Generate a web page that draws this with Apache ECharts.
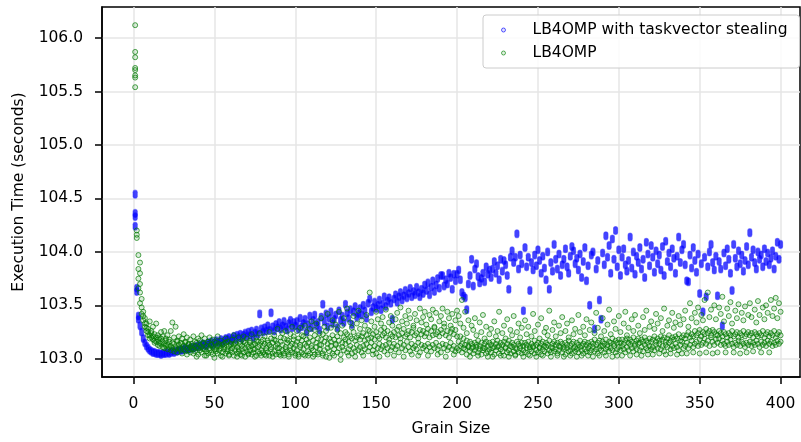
<!DOCTYPE html>
<html>
<head>
<meta charset="utf-8">
<title>Execution time vs grain size</title>
<script src="https://cdn.jsdelivr.net/npm/echarts@6.0.0/dist/echarts.min.js"></script>
<style>
  html, body { margin: 0; padding: 0; background: #fff; }
  #chart { width: 801px; height: 442px; }
</style>
</head>
<body>
<div id="chart"></div>
<script>
// tick labels
const xTicks = [0, 50, 100, 150, 200, 250, 300, 350, 400];
const yTicks = [103.0, 103.5, 104.0, 104.5, 105.0, 105.5, 106.0];

// LB4OMP with taskvector stealing, one value per grain size 1..400
const blueTime = [
  104.36,103.63,103.40,103.31,103.25,103.19,103.15,103.12,103.10,103.08,103.07,103.06,103.06,103.05,103.05,103.05,103.04,103.05,103.05,103.05,
  103.06,103.05,103.06,103.07,103.06,103.07,103.07,103.08,103.08,103.08,103.09,103.10,103.09,103.09,103.10,103.11,103.10,103.11,103.12,103.11,
  103.13,103.12,103.14,103.13,103.12,103.15,103.14,103.16,103.13,103.15,103.17,103.15,103.16,103.18,103.15,103.17,103.19,103.18,103.20,103.17,
  103.19,103.21,103.18,103.22,103.20,103.23,103.19,103.22,103.24,103.21,103.25,103.22,103.26,103.20,103.24,103.27,103.23,103.42,103.28,103.25,
  103.29,103.26,103.31,103.27,103.43,103.30,103.26,103.32,103.29,103.34,103.28,103.31,103.35,103.30,103.27,103.33,103.36,103.29,103.34,103.31,
  103.35,103.28,103.38,103.30,103.33,103.37,103.25,103.32,103.40,103.29,103.36,103.41,103.31,103.34,103.27,103.39,103.51,103.35,103.42,103.30,
  103.38,103.44,103.33,103.37,103.41,103.29,103.45,103.36,103.40,103.34,103.51,103.43,103.38,103.46,103.32,103.44,103.49,103.39,103.42,103.47,
  103.41,103.50,103.45,103.38,103.52,103.56,103.44,103.48,103.53,103.47,103.50,103.55,103.46,103.51,103.58,103.49,103.54,103.57,103.52,103.37,
  103.56,103.60,103.53,103.58,103.62,103.55,103.59,103.64,103.57,103.61,103.66,103.58,103.63,103.60,103.67,103.62,103.58,103.65,103.61,103.69,
  103.64,103.71,103.60,103.67,103.73,103.63,103.69,103.75,103.66,103.78,103.78,103.68,103.74,103.70,103.80,103.76,103.65,103.79,103.73,103.79,
  103.83,103.74,103.62,103.59,103.57,103.46,103.70,103.78,103.93,103.68,103.84,103.89,103.77,103.71,103.75,103.80,103.72,103.86,103.79,103.83,
  103.76,103.84,103.91,103.80,103.87,103.74,103.93,103.82,103.92,103.88,103.78,103.65,103.95,104.01,103.90,103.95,104.17,103.84,103.97,103.89,
  103.45,104.04,103.86,103.95,103.64,103.90,103.83,103.97,103.87,104.02,103.92,103.80,103.96,103.85,103.74,104.00,103.65,103.90,103.82,104.07,
  103.93,103.84,103.98,103.78,103.88,103.93,104.03,103.86,103.80,103.96,104.05,104.01,103.89,103.94,103.83,103.98,103.76,103.91,104.04,103.73,
  103.87,103.50,103.97,104.00,103.28,103.84,103.92,103.55,103.37,103.99,103.88,104.15,103.95,104.06,103.80,104.12,103.93,104.20,103.86,104.02,
  103.78,103.95,104.03,103.88,103.82,103.92,104.14,103.85,104.00,103.79,103.96,103.90,104.04,103.84,103.93,103.76,104.09,103.98,103.87,104.06,
  103.95,103.81,104.01,103.89,103.97,103.83,104.05,103.78,104.10,103.91,103.99,103.86,104.03,103.94,103.80,103.96,104.14,103.90,104.02,104.07,
  103.88,103.73,103.72,103.97,103.85,104.04,103.92,103.81,103.98,103.61,103.89,103.44,103.95,103.58,103.86,104.00,104.07,103.90,103.83,103.96,
  103.59,103.91,103.84,103.31,103.99,103.87,104.03,103.93,103.80,103.64,104.07,103.94,103.86,104.01,103.89,103.97,103.82,103.92,104.05,103.88,
  104.18,103.95,104.02,103.90,103.84,104.00,103.93,103.97,103.86,104.03,103.91,103.99,103.88,103.94,104.01,103.84,103.96,104.09,103.93,104.07
];
const blueExtraGrain = [1, 1, 1, 2, 3];
const blueExtraTime = [104.54, 104.33, 104.24, 103.66, 103.37];

// LB4OMP, three runs per grain size 1..400
const greenRunA = [
  105.65,104.20,103.84,103.70,103.48,103.40,103.33,103.29,103.25,103.22,103.20,103.18,103.15,103.16,103.13,103.12,103.14,103.11,103.10,103.12,
  103.09,103.11,103.08,103.10,103.07,103.09,103.06,103.10,103.08,103.05,103.09,103.07,103.04,103.08,103.06,103.09,103.05,103.07,103.10,103.04,
  103.08,103.06,103.09,103.03,103.07,103.05,103.08,103.06,103.04,103.09,103.07,103.05,103.08,103.03,103.06,103.09,103.05,103.07,103.04,103.08,
  103.06,103.03,103.08,103.05,103.07,103.04,103.09,103.06,103.02,103.07,103.05,103.08,103.04,103.06,103.09,103.03,103.07,103.05,103.08,103.06,
  103.04,103.08,103.06,103.03,103.09,103.05,103.07,103.04,103.10,103.06,103.03,103.08,103.05,103.09,103.07,103.04,103.08,103.06,103.10,103.05,
  103.08,103.04,103.11,103.06,103.09,103.03,103.12,103.07,103.05,103.10,103.08,103.04,103.11,103.06,103.09,103.13,103.05,103.08,103.02,103.10,
  103.07,103.12,103.05,103.09,103.13,103.06,103.10,103.04,103.11,103.08,103.14,103.06,103.09,103.12,103.05,103.10,103.07,103.13,103.08,103.11,
  103.06,103.12,103.09,103.14,103.07,103.11,103.15,103.08,103.12,103.05,103.10,103.14,103.09,103.12,103.07,103.13,103.10,103.15,103.08,103.11,
  103.14,103.09,103.12,103.06,103.15,103.10,103.13,103.08,103.16,103.11,103.07,103.14,103.10,103.12,103.09,103.15,103.06,103.13,103.10,103.12,
  103.08,103.14,103.11,103.07,103.13,103.10,103.15,103.09,103.12,103.06,103.14,103.10,103.13,103.08,103.11,103.15,103.09,103.12,103.07,103.10,
  103.08,103.12,103.06,103.10,103.09,103.04,103.11,103.07,103.10,103.05,103.08,103.11,103.06,103.09,103.04,103.08,103.10,103.05,103.07,103.09,
  103.06,103.10,103.04,103.08,103.11,103.05,103.09,103.07,103.03,103.10,103.06,103.08,103.05,103.11,103.07,103.04,103.09,103.06,103.10,103.05,
  103.08,103.06,103.10,103.04,103.09,103.07,103.11,103.05,103.08,103.06,103.10,103.04,103.09,103.07,103.11,103.05,103.08,103.06,103.10,103.07,
  103.09,103.05,103.08,103.11,103.06,103.09,103.04,103.10,103.07,103.08,103.05,103.10,103.07,103.09,103.06,103.11,103.08,103.05,103.09,103.07,
  103.10,103.06,103.08,103.11,103.07,103.09,103.05,103.10,103.08,103.12,103.06,103.09,103.11,103.07,103.10,103.08,103.12,103.06,103.09,103.11,
  103.08,103.12,103.09,103.06,103.11,103.08,103.13,103.10,103.07,103.12,103.09,103.14,103.08,103.11,103.07,103.13,103.10,103.08,103.12,103.09,
  103.11,103.08,103.13,103.10,103.14,103.09,103.12,103.07,103.13,103.11,103.15,103.09,103.12,103.10,103.14,103.11,103.08,103.13,103.16,103.10,
  103.12,103.15,103.10,103.13,103.17,103.11,103.14,103.16,103.12,103.18,103.13,103.15,103.19,103.14,103.17,103.12,103.20,103.16,103.13,103.18,
  103.15,103.19,103.13,103.17,103.14,103.12,103.16,103.13,103.18,103.14,103.11,103.15,103.13,103.17,103.12,103.16,103.14,103.11,103.15,103.13,
  103.16,103.12,103.15,103.13,103.17,103.14,103.11,103.16,103.13,103.15,103.12,103.17,103.14,103.16,103.12,103.15,103.13,103.17,103.14,103.16
];
const greenRunB = [
  105.72,104.16,103.75,103.62,103.42,103.36,103.30,103.26,103.22,103.19,103.24,103.21,103.17,103.20,103.18,103.15,103.19,103.16,103.14,103.17,
  103.13,103.16,103.12,103.15,103.14,103.11,103.16,103.13,103.10,103.14,103.12,103.15,103.10,103.13,103.11,103.14,103.09,103.12,103.15,103.10,
  103.13,103.11,103.15,103.09,103.12,103.14,103.10,103.13,103.11,103.16,103.09,103.12,103.14,103.10,103.13,103.11,103.15,103.09,103.12,103.14,
  103.10,103.13,103.15,103.11,103.09,103.14,103.12,103.16,103.10,103.13,103.11,103.15,103.12,103.09,103.14,103.17,103.11,103.13,103.16,103.12,
  103.14,103.10,103.17,103.13,103.11,103.15,103.18,103.12,103.14,103.10,103.16,103.13,103.19,103.11,103.15,103.17,103.12,103.14,103.18,103.13,
  103.16,103.19,103.13,103.17,103.21,103.14,103.18,103.15,103.20,103.12,103.17,103.22,103.15,103.19,103.13,103.18,103.23,103.16,103.20,103.14,
  103.19,103.16,103.22,103.18,103.14,103.21,103.17,103.24,103.15,103.20,103.18,103.23,103.16,103.21,103.19,103.25,103.17,103.20,103.22,103.18,
  103.21,103.24,103.17,103.22,103.19,103.26,103.20,103.23,103.18,103.25,103.21,103.19,103.27,103.22,103.24,103.20,103.26,103.18,103.23,103.21,
  103.25,103.20,103.27,103.22,103.19,103.24,103.28,103.21,103.23,103.26,103.20,103.25,103.29,103.22,103.24,103.19,103.27,103.23,103.26,103.21,
  103.24,103.28,103.20,103.26,103.22,103.29,103.23,103.25,103.21,103.27,103.24,103.30,103.22,103.26,103.20,103.25,103.28,103.23,103.27,103.21,
  103.16,103.21,103.14,103.19,103.13,103.17,103.12,103.16,103.14,103.11,103.15,103.13,103.17,103.12,103.15,103.10,103.14,103.16,103.12,103.15,
  103.13,103.16,103.11,103.14,103.17,103.12,103.15,103.13,103.16,103.11,103.14,103.17,103.12,103.15,103.13,103.10,103.16,103.14,103.12,103.15,
  103.12,103.15,103.13,103.16,103.11,103.14,103.12,103.17,103.13,103.15,103.11,103.14,103.16,103.12,103.15,103.13,103.17,103.11,103.14,103.16,
  103.13,103.15,103.12,103.16,103.14,103.11,103.15,103.13,103.17,103.12,103.14,103.16,103.11,103.15,103.13,103.17,103.12,103.14,103.16,103.13,
  103.15,103.12,103.16,103.14,103.18,103.13,103.15,103.17,103.12,103.16,103.14,103.18,103.13,103.16,103.15,103.19,103.14,103.17,103.15,103.18,
  103.15,103.18,103.14,103.17,103.19,103.15,103.18,103.16,103.20,103.14,103.17,103.19,103.15,103.18,103.16,103.20,103.17,103.15,103.19,103.16,
  103.18,103.21,103.16,103.19,103.17,103.21,103.18,103.20,103.16,103.19,103.22,103.17,103.20,103.18,103.21,103.19,103.23,103.17,103.20,103.22,
  103.19,103.22,103.25,103.20,103.23,103.21,103.26,103.22,103.24,103.27,103.21,103.25,103.23,103.28,103.24,103.26,103.22,103.27,103.25,103.23,
  103.22,103.26,103.24,103.21,103.25,103.23,103.20,103.24,103.22,103.26,103.21,103.23,103.25,103.20,103.24,103.22,103.26,103.21,103.23,103.25,
  103.22,103.24,103.20,103.25,103.23,103.21,103.24,103.22,103.26,103.20,103.23,103.25,103.21,103.24,103.22,103.26,103.20,103.23,103.25,103.22
];
const greenRunC = [
  105.87,104.13,103.97,103.90,103.56,103.44,103.38,103.33,103.28,103.35,103.26,103.30,103.23,103.33,103.22,103.20,103.25,103.21,103.26,103.19,
  103.22,103.18,103.26,103.34,103.20,103.30,103.17,103.21,103.15,103.19,103.23,103.16,103.20,103.14,103.18,103.12,103.21,103.16,103.02,103.19,
  103.17,103.22,103.14,103.19,103.03,103.16,103.20,103.13,103.18,103.01,103.15,103.21,103.12,103.17,103.02,103.14,103.19,103.16,103.03,103.13,
  103.18,103.22,103.14,103.02,103.20,103.16,103.03,103.21,103.15,103.19,103.04,103.17,103.23,103.13,103.02,103.20,103.16,103.24,103.03,103.18,
  103.21,103.03,103.15,103.25,103.19,103.02,103.22,103.17,103.28,103.04,103.20,103.24,103.03,103.26,103.18,103.02,103.23,103.30,103.21,103.03,
  103.26,103.02,103.29,103.22,103.04,103.31,103.25,103.03,103.28,103.35,103.02,103.27,103.33,103.04,103.24,103.38,103.03,103.30,103.26,103.42,
  103.01,103.29,103.36,103.03,103.32,103.27,103.44,102.99,103.31,103.38,103.25,103.47,103.03,103.34,103.29,103.40,103.02,103.33,103.45,103.28,
  103.36,103.03,103.31,103.41,103.27,103.62,103.35,103.04,103.30,103.44,103.37,103.02,103.33,103.39,103.29,103.46,103.04,103.34,103.40,103.31,
  103.03,103.37,103.43,103.30,103.48,103.35,103.02,103.40,103.33,103.45,103.38,103.04,103.31,103.42,103.36,103.03,103.47,103.34,103.39,103.44,
  103.32,103.03,103.41,103.37,103.46,103.30,103.43,103.04,103.35,103.40,103.47,103.33,103.02,103.44,103.38,103.31,103.42,103.04,103.36,103.45,
  103.40,103.33,103.55,103.29,103.44,103.24,103.36,103.02,103.31,103.27,103.38,103.22,103.03,103.34,103.25,103.41,103.19,103.30,103.02,103.23,
  103.28,103.02,103.35,103.21,103.26,103.44,103.03,103.24,103.31,103.19,103.37,103.02,103.27,103.22,103.40,103.03,103.25,103.33,103.20,103.29,
  103.02,103.36,103.23,103.30,103.03,103.21,103.42,103.26,103.02,103.32,103.19,103.38,103.03,103.25,103.29,103.22,103.45,103.02,103.27,103.34,
  103.21,103.03,103.31,103.24,103.39,103.02,103.26,103.33,103.20,103.03,103.36,103.23,103.28,103.02,103.41,103.25,103.03,103.30,103.22,103.37,
  103.03,103.27,103.34,103.02,103.24,103.43,103.29,103.03,103.21,103.38,103.26,103.03,103.32,103.46,103.23,103.02,103.35,103.28,103.03,103.40,
  103.25,103.03,103.33,103.44,103.22,103.29,103.03,103.37,103.26,103.41,103.04,103.31,103.24,103.03,103.39,103.27,103.45,103.04,103.30,103.35,
  103.04,103.28,103.42,103.33,103.05,103.38,103.26,103.47,103.04,103.31,103.36,103.05,103.43,103.29,103.34,103.04,103.40,103.32,103.05,103.37,
  103.45,103.05,103.30,103.52,103.38,103.06,103.43,103.34,103.48,103.05,103.41,103.36,103.55,103.06,103.62,103.39,103.46,103.05,103.50,103.37,
  103.06,103.48,103.42,103.58,103.35,103.06,103.47,103.40,103.53,103.33,103.06,103.45,103.38,103.51,103.05,103.43,103.36,103.49,103.06,103.41,
  103.52,103.39,103.07,103.46,103.34,103.54,103.41,103.06,103.48,103.37,103.50,103.43,103.06,103.55,103.40,103.47,103.57,103.38,103.52,103.44
];
const greenExtraGrain = [1, 1, 1, 1, 1, 3, 4, 4];
const greenExtraTime = [106.12, 105.82, 105.70, 105.63, 105.54, 103.66, 103.52, 103.80];

// grain size is the position in each run (1-based)
function toPoints(values) {
  return values.map((v, i) => [i + 1, v]);
}
function pairUp(xs, ys) {
  return xs.map((x, i) => [x, ys[i]]);
}

const blueData = toPoints(blueTime).concat(pairUp(blueExtraGrain, blueExtraTime));
const greenData = toPoints(greenRunA)
  .concat(toPoints(greenRunB))
  .concat(toPoints(greenRunC))
  .concat(pairUp(greenExtraGrain, greenExtraTime));

const font = 'DejaVu Sans';
const gridLine = { show: true, lineStyle: { color: '#e6e6e6', width: 1.5 } };
const spine = { show: true, onZero: false, lineStyle: { color: '#000', width: 1.5 } };
const tick = { show: true, inside: false, length: 7, lineStyle: { color: '#000', width: 1.5 } };

const chart = echarts.init(document.getElementById('chart'), null, { renderer: 'canvas' });
const option = {
  animation: false,
  backgroundColor: '#fff',
  textStyle: { fontFamily: font },
  grid: {
    left: 102, right: 1, top: 7, bottom: 65,
    show: true, borderColor: '#000', borderWidth: 1.5
  },
  legend: {
    orient: 'vertical',
    left: 483, top: 15,
    padding: [6, 12, 6, 18],
    itemGap: 5,
    itemWidth: 4, itemHeight: 4,
    backgroundColor: 'rgba(255,255,255,0.85)',
    borderColor: '#cccccc', borderWidth: 1, borderRadius: 3,
    textStyle: { fontFamily: font, fontSize: 15.5, color: '#000', lineHeight: 18, padding: [0, 0, 0, 22] },
    data: [
      { name: 'LB4OMP with taskvector stealing', icon: 'circle',
        itemStyle: { color: 'rgba(0,0,255,0.15)', borderColor: 'rgba(0,0,255,0.8)', borderWidth: 1 } },
      { name: 'LB4OMP', icon: 'circle',
        itemStyle: { color: 'rgba(0,128,0,0.15)', borderColor: 'rgba(0,128,0,0.8)', borderWidth: 1 } }
    ]
  },
  xAxis: {
    type: 'value',
    min: -19.5, max: 412,
    name: 'Grain Size',
    nameLocation: 'middle', nameGap: 44,
    nameTextStyle: { fontFamily: font, fontSize: 15.5, color: '#000' },
    axisLine: spine,
    axisTick: Object.assign({ customValues: xTicks }, tick),
    axisLabel: { margin: 19, fontFamily: font, fontSize: 15.5, color: '#000', customValues: xTicks },
    splitLine: gridLine
  },
  yAxis: {
    type: 'value',
    min: 102.83, max: 106.29,
    name: 'Execution Time (seconds)',
    nameLocation: 'middle', nameGap: 75,
    nameTextStyle: { fontFamily: font, fontSize: 15.5, color: '#000' },
    axisLine: spine,
    axisTick: Object.assign({ customValues: yTicks }, tick),
    axisLabel: {
      margin: 19, fontFamily: font, fontSize: 15.5, color: '#000', customValues: yTicks,
      formatter: v => v.toFixed(1)
    },
    splitLine: gridLine
  },
  series: [
    {
      name: 'LB4OMP with taskvector stealing',
      type: 'scatter',
      data: blueData,
      symbol: 'path://M0,2A2,2,0,0,1,4,2L4,6A2,2,0,0,1,0,6Z',
      symbolSize: [4.5, 8],
      itemStyle: { color: 'rgba(0,0,255,0.92)', borderColor: 'rgba(40,40,255,0.6)', borderWidth: 0.8 },
      z: 2
    },
    {
      name: 'LB4OMP',
      type: 'scatter',
      data: greenData,
      symbol: 'circle',
      symbolSize: 5,
      itemStyle: { color: 'rgba(0,128,0,0.18)', borderColor: 'rgba(0,120,0,0.85)', borderWidth: 1 },
      z: 3
    }
  ]
};
chart.setOption(option);
</script>
</body>
</html>
